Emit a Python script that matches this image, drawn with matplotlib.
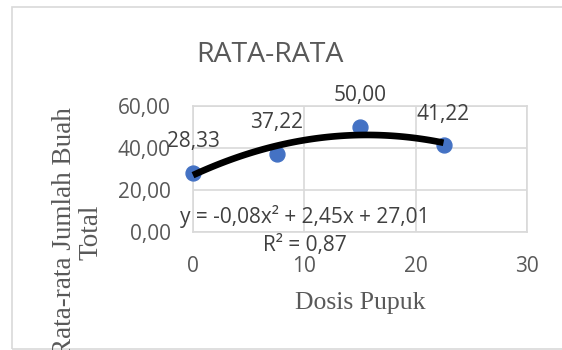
import numpy as np
import matplotlib
matplotlib.use("Agg")
import matplotlib.pyplot as plt
from matplotlib.patches import Rectangle

# data
dosis = [0, 7.5, 15, 22.5]
rata = [28.33, 37.22, 50.00, 41.22]
x_ticks = [0, 10, 20, 30]
y_ticks = [0, 20, 40, 60]
eq_text = "y = -0,08x² + 2,45x + 27,01"
r2_text = "R² = 0,87"

plt.rcParams['font.family'] = ['Open Sans', 'DejaVu Sans']

W, H = 562, 350
fig = plt.figure(figsize=(W / 100, H / 100), dpi=100)
fig.patch.set_facecolor('white')

# chart border (Excel chart area)
fig.patches.append(Rectangle((12 / W, 1 / H), 1.0, 1 - 8 / H, transform=fig.transFigure,
                             fill=False, edgecolor='#D9D9D9', linewidth=1.2))

ax = fig.add_axes([193 / W, 1 - 232 / H, (527 - 193) / W, (232 - 106) / H])
ax.set_xlim(0, 30)
ax.set_ylim(0, 60)
ax.set_xticks(x_ticks)
ax.set_yticks(y_ticks)
ax.set_xticklabels([str(t) for t in x_ticks])
ax.set_yticklabels([f"{t:.2f}".replace('.', ',') for t in y_ticks])
ax.grid(True, color='#D9D9D9', linewidth=1.2)
ax.set_axisbelow(True)
for s in ax.spines.values():
    s.set_color('#D9D9D9')
    s.set_linewidth(1.2)
ax.tick_params(length=0, labelsize=15, labelcolor='#595959')
ax.tick_params(axis='y', pad=16)
ax.tick_params(axis='x', pad=17)

# points
ax.scatter(dosis, rata, s=115, color='#4472C4', zorder=3, clip_on=False)

# polynomial trendline (order 2)
c = np.polyfit(dosis, rata, 2)
xs = np.linspace(min(dosis), max(dosis), 100)
ax.plot(xs, np.polyval(c, xs), color='black', linewidth=4.8, zorder=4,
        solid_capstyle='butt', clip_on=False)

# data labels
for xv, yv in zip(dosis, rata):
    ax.annotate(f"{yv:.2f}".replace('.', ','), (xv, yv), xytext=(0, 31),
                textcoords='offset pixels', ha='center', va='center',
                fontsize=15, color='#404040', zorder=5, annotation_clip=False)

fig.text(305 / W, 1 - 217 / H, eq_text, ha='center', va='center', fontsize=15, color='#404040')
fig.text(305 / W, 1 - 245 / H, r2_text, ha='center', va='center', fontsize=15, color='#404040')

# titles
fig.text(270 / W, 1 - 55 / H, "RATA-RATA", ha='center', va='center', fontsize=20.5, color='#595959')
fig.text(360 / W, 1 - 303 / H, "Dosis Pupuk", ha='center', va='center',
         fontsize=18.5, color='#595959', family='Liberation Serif')
fig.text(78 / W, 1 - 232 / H, "Rata-rata Jumlah Buah\nTotal", ha='center', va='center',
         rotation=90, multialignment='center', linespacing=1.1,
         fontsize=19.5, color='#595959', family='Liberation Serif')

fig.savefig('out.png', dpi=100)
